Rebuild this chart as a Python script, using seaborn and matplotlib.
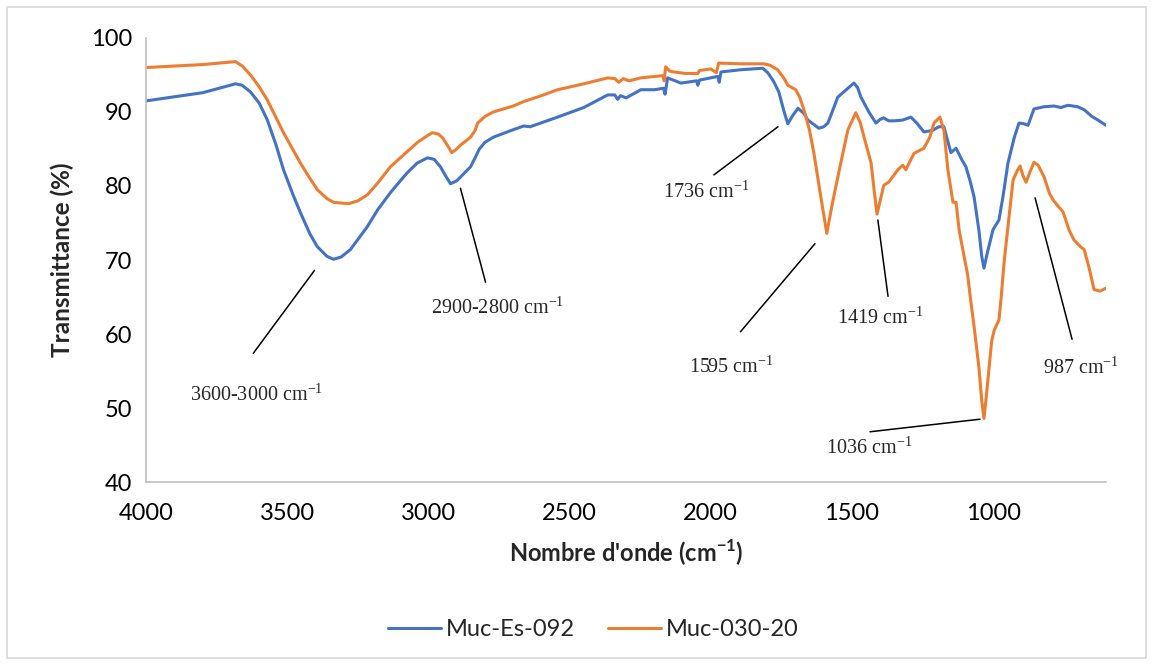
"""
FTIR spectra of two mucilage samples (Muc-Es-092, Muc-030-20)
"""
import numpy as np
import pandas as pd
import matplotlib
matplotlib.use('Agg')
import matplotlib.pyplot as plt
from matplotlib.patches import Rectangle
import seaborn as sns

# --- data ---
wn_es092 = [4000, 3800, 3684, 3660, 3631, 3600, 3571, 3540, 3514, 3480, 3454, 3420, 3394,
            3360, 3337, 3310, 3277, 3250, 3217, 3180, 3135, 3100, 3075, 3040, 3004, 2980,
            2958, 2940, 2922, 2900, 2887, 2851, 2835, 2820, 2800, 2770, 2700, 2663, 2640,
            2543, 2450, 2365, 2340, 2330, 2320, 2300, 2248, 2200, 2167, 2162, 2153, 2106,
            2050, 2046, 2040, 1975, 1970, 1964, 1894, 1816, 1798, 1777, 1759, 1740, 1727,
            1710, 1691, 1670, 1656, 1617, 1600, 1585, 1565, 1550, 1520, 1493, 1480, 1468,
            1440, 1415, 1400, 1387, 1370, 1351, 1320, 1291, 1270, 1245, 1215, 1192, 1174,
            1160, 1149, 1131, 1110, 1096, 1080, 1067, 1050, 1040, 1032, 1020, 1000, 979,
            965, 947, 925, 908, 890, 876, 855, 820, 784, 760, 734, 700, 677, 650, 628, 600]
t_es092 = [91.5, 92.6, 93.8, 93.6, 92.7, 91.2, 88.9, 85.5, 82.2, 78.8, 76.4, 73.5, 71.8,
           70.5, 70.1, 70.4, 71.4, 72.8, 74.5, 76.8, 79.1, 80.7, 81.8, 83.1, 83.8, 83.6,
           82.6, 81.4, 80.3, 80.7, 81.2, 82.6, 83.8, 85.0, 85.9, 86.6, 87.6, 88.1, 88.0,
           89.3, 90.6, 92.3, 92.3, 91.7, 92.2, 91.9, 93.0, 93.0, 93.2, 92.4, 94.6, 93.9,
           94.2, 93.6, 94.3, 94.8, 94.0, 95.4, 95.7, 95.9, 95.3, 94.1, 92.7, 90.0, 88.4,
           89.5, 90.5, 89.8, 88.9, 87.8, 88.0, 88.5, 90.5, 92.0, 93.0, 93.9, 93.3, 92.0,
           90.0, 88.5, 89.0, 89.2, 88.8, 88.8, 88.9, 89.3, 88.5, 87.3, 87.5, 88.0, 88.0,
           86.0, 84.5, 85.1, 83.5, 82.6, 80.5, 78.5, 74.0, 70.5, 68.9, 71.0, 74.1, 75.4,
           78.5, 83.1, 86.5, 88.5, 88.4, 88.2, 90.4, 90.7, 90.8, 90.6, 90.9, 90.7, 90.3,
           89.4, 88.9, 88.2]

wn_030 = [4000, 3800, 3684, 3660, 3631, 3600, 3571, 3514, 3454, 3420, 3394, 3360, 3337,
          3284, 3250, 3217, 3180, 3135, 3080, 3039, 3000, 2986, 2965, 2950, 2930, 2918,
          2900, 2887, 2851, 2835, 2826, 2800, 2770, 2700, 2663, 2600, 2543, 2450, 2365,
          2340, 2326, 2310, 2290, 2248, 2170, 2165, 2160, 2145, 2131, 2090, 2046, 2040,
          2000, 1980, 1972, 1894, 1812, 1790, 1763, 1740, 1727, 1699, 1685, 1670, 1650,
          1635, 1610, 1589, 1570, 1550, 1530, 1514, 1486, 1470, 1457, 1432, 1420, 1411,
          1400, 1387, 1370, 1337, 1320, 1309, 1280, 1245, 1225, 1209, 1188, 1174, 1160,
          1142, 1131, 1120, 1107, 1090, 1078, 1067, 1050, 1040, 1032, 1024, 1014, 1005,
          996, 979, 972, 960, 947, 929, 915, 904, 895, 883, 870, 855, 840, 819, 800, 787,
          770, 752, 730, 713, 690, 677, 660, 642, 620, 600]
t_030 = [96.0, 96.4, 96.8, 96.2, 95.0, 93.4, 91.6, 87.2, 83.1, 81.0, 79.5, 78.3, 77.8,
         77.6, 78.0, 78.8, 80.4, 82.6, 84.5, 85.9, 86.9, 87.2, 87.0, 86.5, 85.3, 84.5,
         85.0, 85.5, 86.6, 87.5, 88.5, 89.4, 90.0, 90.8, 91.4, 92.2, 93.0, 93.8, 94.6,
         94.5, 94.0, 94.5, 94.2, 94.6, 94.9, 94.2, 96.1, 95.5, 95.4, 95.2, 95.2, 95.6,
         95.8, 95.3, 96.6, 96.5, 96.5, 96.3, 95.7, 94.5, 93.6, 93.0, 92.0, 90.3, 87.5,
         84.5, 78.5, 73.6, 77.5, 81.2, 84.8, 87.6, 89.9, 88.5, 86.6, 83.1, 79.0, 76.2,
         78.0, 80.1, 80.5, 82.2, 82.8, 82.2, 84.4, 85.1, 86.5, 88.5, 89.3, 87.5, 82.2,
         77.8, 77.8, 74.0, 71.4, 68.0, 64.2, 61.0, 55.5, 51.0, 48.6, 51.5, 55.5, 59.0,
         60.5, 61.9, 64.6, 70.0, 74.5, 80.8, 82.0, 82.7, 81.5, 80.5, 81.8, 83.2, 82.8,
         81.2, 79.0, 78.1, 77.3, 76.5, 74.0, 72.7, 71.8, 71.4, 69.0, 66.0, 65.8, 66.2]

samples = ['Muc-Es-092', 'Muc-030-20']
colors = ['#4472C4', '#ED7D31']

# bandes annotées : (texte, pointe de la ligne, bout de la ligne, centre du texte)
band_labels = ['3600-3000', '2900-2800', '1736', '1595', '1419', '1036', '987']
band_tip = [(3404, 68.6), (2887, 79.7), (1762, 88.0), (1631, 72.2),
            (1408, 75.4), (1046, 48.5), (851, 78.4)]
band_tail = [(3621, 57.4), (2798, 67.0), (1989, 81.5), (1895, 60.3),
             (1372, 65.1), (1436, 46.8), (720, 59.3)]
band_text = [(3610, 51.8), (2755, 63.6), (2018, 79.2), (1929, 55.6),
             (1401, 62.2), (1440, 44.6), (688, 55.4)]


def main():
    df = pd.concat([
        pd.DataFrame({'wn': wn_es092, 'T': t_es092, 'sample': samples[0]}),
        pd.DataFrame({'wn': wn_030, 'T': t_030, 'sample': samples[1]}),
    ])

    sns.set_style('white')
    plt.rcParams['font.family'] = ['Lato', 'DejaVu Sans']
    plt.rcParams['mathtext.fontset'] = 'custom'
    plt.rcParams['mathtext.rm'] = 'Liberation Serif'
    plt.rcParams['mathtext.bf'] = 'Lato:bold'

    fig, ax = plt.subplots(figsize=(11.52, 6.65), dpi=100)
    fig.subplots_adjust(left=0.127, right=0.960, top=0.943, bottom=0.275)

    sns.lineplot(data=df, x='wn', y='T', hue='sample', palette=colors,
                 hue_order=samples, linewidth=2.2, ax=ax, estimator=None, sort=False)

    ax.set_xlim(4000, 600)
    ax.set_ylim(40, 100)
    ax.set_xticks([4000, 3500, 3000, 2500, 2000, 1500, 1000])
    ax.set_yticks(range(40, 101, 10))

    for side in ['top', 'right']:
        ax.spines[side].set_visible(False)
    for side in ['left', 'bottom']:
        ax.spines[side].set_color('#BFBFBF')
        ax.spines[side].set_linewidth(1.2)
    ax.tick_params(axis='both', direction='out', length=6, width=1.2,
                   color='#BFBFBF', labelsize=17, labelcolor='black', pad=4)
    ax.tick_params(axis='x', pad=9)

    ax.set_ylabel('Transmittance (%)', fontsize=17.5, fontweight='bold', labelpad=12)
    ax.set_xlabel(r"Nombre d'onde (cm$^{\mathbf{-1}}$)", fontsize=17,
                  fontweight='bold', labelpad=10)

    for lab, tip, tail, txt in zip(band_labels, band_tip, band_tail, band_text):
        ax.plot([tip[0], tail[0]], [tip[1], tail[1]], color='black', lw=1.1)
        ax.text(txt[0], txt[1], lab + r' cm$^{\mathrm{-1}}$', ha='center', va='center',
                fontsize=14.5, family='Liberation Serif')

    ax.legend(loc='center', bbox_to_anchor=(0.515, 0.053), bbox_transform=fig.transFigure,
              ncol=2, frameon=False, fontsize=17, handlelength=2.25,
              handletextpad=0.2, columnspacing=1.4)

    fig.patches.append(Rectangle((0.006, 0.011), 0.989, 0.978, transform=fig.transFigure,
                                 fill=False, edgecolor='#D9D9D9', lw=1.2))

    fig.savefig('out.png', dpi=100)
    plt.close(fig)


if __name__ == '__main__':
    main()
